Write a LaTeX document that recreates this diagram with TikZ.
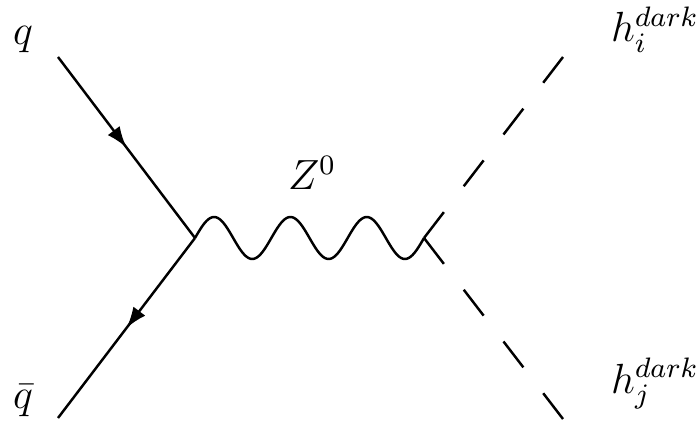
\documentclass[tikz,border=0pt]{standalone}
\usepackage{tikz}
\usetikzlibrary{arrows.meta,decorations.markings}

\begin{document}
\begin{tikzpicture}[
  x=0.01cm, y=-0.01cm,
  line width=0.7pt,
  fermion/.style={draw, postaction={decorate},
                  decoration={markings, mark=at position 0.5 with
                    {\arrow{Latex[length=2.1mm, width=1.5mm]}}}},
  boson/.style={draw, smooth, samples=121},
  scalar/.style={draw, dash pattern=on 0.326cm off 0.326cm},
  lbl/.style={font=\large, inner sep=0pt}
]
  \useasboundingbox (0,0) rectangle (698,422);

  % external legs and vertices
  \coordinate (qin) at (58,57);
  \coordinate (qbarout) at (58,418);
  \coordinate (vleft) at (195,238);
  \coordinate (vright) at (424,238);
  \coordinate (hiout) at (563,57);
  \coordinate (hjout) at (563,419);

  \node[lbl, anchor=base] (qlbl) at (23,45) {$q$};
  \node[lbl, anchor=base] (qbarlbl) at (23,408) {$\bar q$};
  \node[lbl, anchor=base] (zlbl) at (312,190) {$Z^0$};
  \node[lbl, anchor=base west] (hilbl) at (610,42) {$h_i^{dark}$};
  \node[lbl, anchor=base west] (hjlbl) at (610,393) {$h_j^{dark}$};

  \path[fermion] (qin) -- (vleft);
  \path[fermion] (vleft) -- (qbarout);
  % three full waves from vleft to vright (1080/229 deg per unit)
  \path[boson, shift={(vleft)}] plot[domain=0:229]
    (\x, {-21*sin(4.71616*\x)}) -- (vright);
  \path[scalar] (vright) -- (hiout);
  \path[scalar] (vright) -- (hjout);
\end{tikzpicture}
\end{document}
